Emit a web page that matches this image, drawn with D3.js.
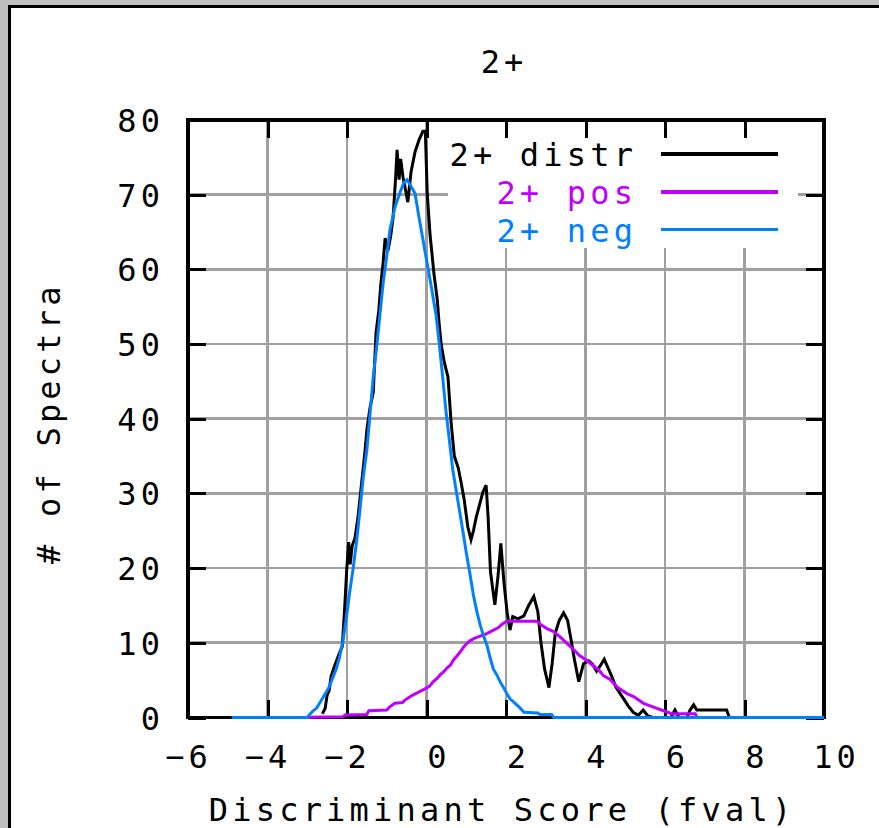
<!DOCTYPE html>
<html>
<head>
<meta charset="utf-8">
<script src="https://cdn.jsdelivr.net/npm/d3@7"></script>
<style>
  html, body { margin: 0; padding: 0; background: #c0c0c0; }
  svg { display: block; }
  text { font-family: "DejaVu Sans Mono", monospace; font-size: 32px; letter-spacing: 4.2px; }
</style>
</head>
<body>
<svg id="chart" width="879" height="828"></svg>
<script>
// ---- chart data ----
const chartTitle = "2+";
const xTitle = "Discriminant Score (fval)";
const yTitle = "# of Spectra";
const xTicks = [-6, -4, -2, 0, 2, 4, 6, 8, 10];
const yTicks = [0, 10, 20, 30, 40, 50, 60, 70, 80];
const seriesNames = ["2+ distr", "2+ pos", "2+ neg"];
const seriesColors = ["#000000", "#c000ff", "#0080ff"];

// observed distribution [score, count]
const distrPoints = [
  [-2.62, 0.5], [-2.55, 1.2], [-2.5, 3.0], [-2.45, 3.6], [-2.4, 5.5], [-2.32, 6.8],
  [-2.2, 8.5], [-2.12, 9.5], [-2.06, 14.5], [-2.01, 19.5], [-1.96, 23.5], [-1.92, 20.5],
  [-1.87, 23], [-1.8, 24], [-1.72, 27], [-1.63, 31.5], [-1.55, 35.5], [-1.5, 38.5],
  [-1.42, 41.5], [-1.34, 43.5], [-1.27, 51.5], [-1.2, 54.5], [-1.15, 58], [-1.09, 61],
  [-1.04, 64.2], [-0.97, 62.5], [-0.9, 64.5], [-0.84, 67], [-0.78, 72], [-0.74, 76],
  [-0.69, 72], [-0.65, 74.8], [-0.59, 72.3], [-0.54, 71], [-0.47, 69], [-0.39, 73],
  [-0.29, 75.7], [-0.19, 77.3], [-0.09, 78.5], [-0.03, 78.5], [0.02, 70], [0.09, 64.6],
  [0.19, 59.3], [0.27, 56], [0.31, 53.2], [0.37, 49.9], [0.45, 47.5], [0.54, 45.6],
  [0.62, 39.4], [0.7, 35], [0.8, 33.4], [0.87, 31.5], [0.95, 29.1], [1.04, 25.5],
  [1.12, 23.8], [1.18, 25], [1.25, 26.8], [1.33, 28.4], [1.42, 30.2], [1.5, 31.1],
  [1.55, 26.8], [1.61, 19.5], [1.72, 15.1], [1.8, 19], [1.87, 23.3], [1.95, 18],
  [2.03, 14], [2.1, 11.7], [2.17, 13.5], [2.3, 13.2], [2.45, 13.6], [2.57, 15],
  [2.7, 16.2], [2.8, 14.2], [2.88, 10], [2.97, 6.5], [3.08, 4], [3.16, 7.2],
  [3.24, 11.3], [3.34, 13], [3.45, 14], [3.55, 13], [3.63, 10.6], [3.72, 7.8],
  [3.83, 4.8], [3.95, 7.2], [4.08, 7.6], [4.18, 7.1], [4.28, 6.2], [4.38, 7.0],
  [4.47, 7.8], [4.57, 6.6], [4.66, 5.5], [4.76, 4.1], [4.86, 3.3], [4.96, 2.5],
  [5.07, 1.6], [5.2, 0.7], [5.33, 0.3], [5.45, 1.0], [5.57, 0.2], [5.7, 0],
  [6.15, 0], [6.25, 1.0], [6.35, 0], [6.55, 0], [6.63, 1.0], [6.72, 1.7],
  [6.8, 1.0], [7.55, 1.0], [7.62, 0]
];

// fitted positive component [score, count]
const posPoints = [
  [-3.0, 0.05], [-2.1, 0.1], [-2.05, 0.35], [-1.5, 0.4], [-1.45, 0.9], [-1.0, 1.0],
  [-0.93, 1.4], [-0.8, 1.9], [-0.6, 2.0], [-0.55, 2.3], [-0.38, 2.9], [-0.2, 3.4],
  [-0.05, 3.8], [0.08, 4.2], [0.17, 4.8], [0.26, 5.2], [0.34, 5.7], [0.43, 6.1],
  [0.51, 6.6], [0.6, 7.0], [0.68, 7.7], [0.76, 8.2], [0.85, 8.8], [0.93, 9.4],
  [1.01, 9.9], [1.1, 10.3], [1.2, 10.6], [1.35, 10.9], [1.5, 11.2], [1.65, 11.6],
  [1.8, 12.0], [1.9, 12.5], [2.02, 12.9], [2.78, 12.9], [2.86, 12.5], [3.03, 11.9],
  [3.2, 11.5], [3.36, 10.8], [3.5, 10.1], [3.6, 9.6], [3.7, 9.1], [3.85, 8.3],
  [3.99, 7.8], [4.2, 6.9], [4.33, 6.4], [4.45, 5.6], [4.62, 5.1], [4.79, 4.1],
  [5.04, 3.2], [5.21, 2.8], [5.46, 1.9], [5.71, 1.4], [5.96, 0.9], [6.17, 0.5],
  [6.76, 0.5], [6.8, 0.1]
];

// fitted negative component [score, count]
const negPoints = [
  [-4.9, 0], [-3.0, 0], [-2.94, 0.4], [-2.85, 0.9], [-2.76, 1.3], [-2.68, 2.0],
  [-2.6, 2.7], [-2.51, 3.5], [-2.44, 4.2], [-2.36, 5.3], [-2.27, 6.5], [-2.19, 8.0],
  [-2.1, 10.3], [-2.02, 13.2], [-1.94, 16.5], [-1.85, 19.8], [-1.76, 23.5], [-1.68, 27.5],
  [-1.59, 32.2], [-1.5, 35.8], [-1.42, 40.7], [-1.34, 45.6], [-1.25, 49.8], [-1.17, 54],
  [-1.09, 58.2], [-0.99, 62.2], [-0.92, 65.3], [-0.79, 68.4], [-0.66, 70.4], [-0.57, 71.6],
  [-0.49, 72], [-0.41, 71.3], [-0.29, 70.2], [-0.19, 67], [-0.12, 64.9], [-0.01, 61.6],
  [0.13, 57.4], [0.24, 53.9], [0.33, 49.6], [0.41, 45.4], [0.49, 41], [0.58, 36.9],
  [0.66, 33.2], [0.75, 30.3], [0.83, 27.7], [0.91, 25.1], [1.0, 22.1], [1.1, 19],
  [1.18, 16.4], [1.27, 14.1], [1.35, 12.4], [1.43, 11], [1.53, 9.5], [1.6, 8],
  [1.68, 6.5], [1.77, 5.7], [1.85, 4.8], [1.94, 4], [2.02, 3.2], [2.1, 2.5],
  [2.19, 2.1], [2.29, 1.6], [2.37, 1.2], [2.45, 0.7], [2.8, 0.6], [2.85, 0.4],
  [3.15, 0.4], [3.2, 0], [10, 0]
];

const seriesData = [distrPoints, posPoints, negPoints];

// ---- layout ----
const W = 879, H = 828;
const LS = 4.2;          // letter spacing used by all text
const TICK = 18;         // inward tick length

const svg = d3.select("#chart");

const x = d3.scaleLinear().domain([xTicks[0], xTicks[xTicks.length - 1]]).range([188, 824]);
const y = d3.scaleLinear().domain([yTicks[0], yTicks[yTicks.length - 1]]).range([717.5, 120]);

// window frame
svg.append("rect").attr("width", W).attr("height", H).attr("fill", "#c0c0c0");
svg.append("rect").attr("x", 8).attr("y", 5).attr("width", W).attr("height", H).attr("fill", "#000");
svg.append("rect").attr("x", 11).attr("y", 8).attr("width", W).attr("height", H).attr("fill", "#fff");

// grid
const grid = svg.append("g")
  .attr("stroke", "#a0a0a0").attr("stroke-width", 2.7).attr("shape-rendering", "crispEdges");
grid.selectAll("line.gx").data(xTicks.slice(1, -1)).join("line").attr("class", "gx")
  .attr("x1", d => x(d)).attr("x2", d => x(d))
  .attr("y1", y.range()[0]).attr("y2", y.range()[1]);
grid.selectAll("line.gy").data(yTicks.slice(1, -1)).join("line").attr("class", "gy")
  .attr("y1", d => y(d)).attr("y2", d => y(d))
  .attr("x1", x.range()[0]).attr("x2", x.range()[1]);

// key background clears the grid behind the legend
svg.append("rect").attr("x", 448).attr("y", 121.5).attr("width", 350).attr("height", 126.5)
  .attr("fill", "#fff");

// axes with inward ticks on all four sides
function styleAxis(g) {
  g.select(".domain").remove();
  g.selectAll(".tick line").attr("stroke", "#000").attr("stroke-width", 3)
    .attr("shape-rendering", "crispEdges");
  g.attr("font-family", null).attr("font-size", null);
  g.selectAll("text").attr("fill", "#000");
}

svg.append("g").attr("transform", `translate(0,${y.range()[0]})`)
  .call(d3.axisBottom(x).tickValues(xTicks).tickSize(-TICK).tickPadding(28).tickFormat(d3.format("d")))
  .call(styleAxis)
  .call(g => g.selectAll("text")
    .text(d => String(d).replace("-", "\u2212"))
    .attr("dx", d => (d < 0 ? LS / 2 - 2 : LS / 2 + 10)));

svg.append("g").attr("transform", `translate(0,${y.range()[1]})`)
  .call(d3.axisTop(x).tickValues(xTicks).tickSize(-TICK).tickFormat(""))
  .call(styleAxis);

svg.append("g").attr("transform", `translate(${x.range()[0]},0)`)
  .call(d3.axisLeft(y).tickValues(yTicks).tickSize(-TICK).tickPadding(28 - LS).tickFormat(d3.format("d")))
  .call(styleAxis)
  .call(g => g.selectAll("text").attr("dy", "0.36em"));

svg.append("g").attr("transform", `translate(${x.range()[1]},0)`)
  .call(d3.axisRight(y).tickValues(yTicks).tickSize(-TICK).tickFormat(""))
  .call(styleAxis);

// plot border
svg.append("rect")
  .attr("x", x.range()[0]).attr("y", y.range()[1])
  .attr("width", x.range()[1] - x.range()[0]).attr("height", y.range()[0] - y.range()[1])
  .attr("fill", "none").attr("stroke", "#000").attr("stroke-width", 3.3)
  .attr("shape-rendering", "crispEdges");

// series curves
const line = d3.line().x(d => x(d[0])).y(d => y(d[1]));
svg.append("g").selectAll("path").data(seriesData).join("path")
  .attr("d", line)
  .attr("fill", "none")
  .attr("stroke", (d, i) => seriesColors[i])
  .attr("stroke-width", 3)
  .attr("stroke-linejoin", "miter");

// legend
const keyRows = [166, 204, 241.5];
const keyLines = [154, 192, 229.7];
const key = svg.append("g");
key.selectAll("text").data(seriesNames).join("text")
  .attr("x", 633 + LS).attr("y", (d, i) => keyRows[i])
  .attr("text-anchor", "end")
  .attr("fill", (d, i) => seriesColors[i])
  .text(d => d);
key.selectAll("line").data(seriesNames).join("line")
  .attr("x1", 661).attr("x2", 778)
  .attr("y1", (d, i) => keyLines[i]).attr("y2", (d, i) => keyLines[i])
  .attr("stroke", (d, i) => seriesColors[i])
  .attr("stroke-width", (d, i) => (i === 2 ? 3 : 4))
  .attr("shape-rendering", "crispEdges");

// titles
svg.append("text").attr("x", 502 + LS / 2).attr("y", 72.5)
  .attr("text-anchor", "middle").text(chartTitle);

svg.append("text").attr("x", 500 + LS / 2).attr("y", 821)
  .attr("text-anchor", "middle").text(xTitle);

svg.append("text")
  .attr("transform", `translate(60,${421 + LS / 2}) rotate(-90)`)
  .attr("text-anchor", "middle").text(yTitle);
</script>
</body>
</html>
